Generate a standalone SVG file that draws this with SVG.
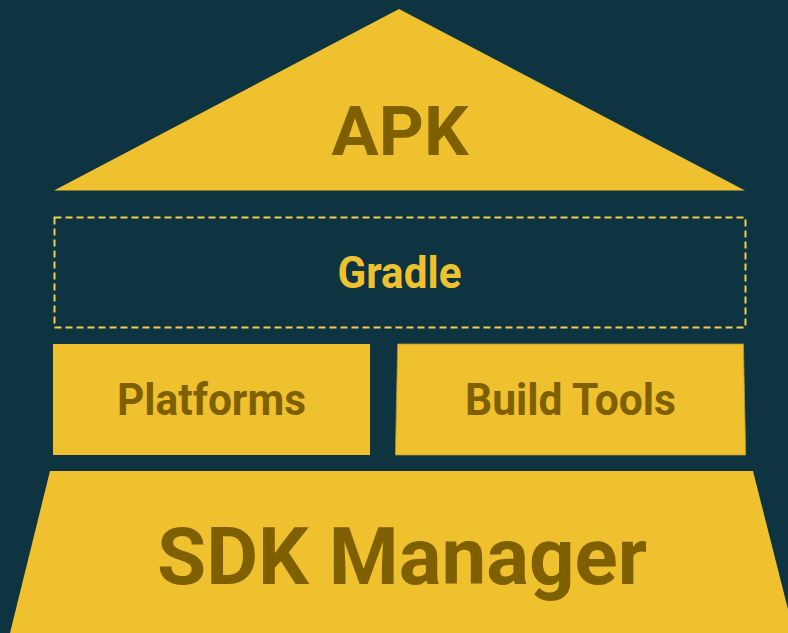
<svg xmlns="http://www.w3.org/2000/svg" width="788" height="633" viewBox="0 0 788 633">
<style>
.bg{fill:#0D3440}
.blk{fill:#F0C12E}
.lbl{font-family:Roboto,"Liberation Sans",sans-serif;font-weight:bold;fill:#7F6000;text-anchor:middle}
.glbl{font-family:Roboto,"Liberation Sans",sans-serif;font-weight:bold;fill:#F0C12E;text-anchor:middle}
.dash{fill:none;stroke:#F5CC4E;stroke-width:2;stroke-dasharray:7 4}
</style>
<rect class="bg" x="0" y="0" width="788" height="633"/>
<g id="apk">
<polygon class="blk" points="399,9 745,190.5 54,190.5"/>
<text class="lbl" x="400" y="155" font-size="69" textLength="137" lengthAdjust="spacingAndGlyphs">APK</text>
</g>
<g id="gradle">
<rect class="dash" x="54.5" y="217.5" width="691" height="110"/>
<text class="glbl" x="399.5" y="288" font-size="44" textLength="124" lengthAdjust="spacingAndGlyphs">Gradle</text>
</g>
<g id="platforms">
<rect class="blk" x="53" y="344" width="317" height="111"/>
<text class="lbl" x="211.5" y="415" font-size="45" textLength="189" lengthAdjust="spacingAndGlyphs">Platforms</text>
</g>
<g id="buildtools">
<polygon class="blk" points="397.7,344 743.4,344 745.7,455 395.4,455" stroke="#B8962A" stroke-width="0.8"/>
<text class="lbl" x="570.5" y="415" font-size="45" textLength="211" lengthAdjust="spacingAndGlyphs">Build Tools</text>
</g>
<g id="sdkmanager">
<polygon class="blk" points="50,471 753,471 794,633 10,633"/>
<text class="lbl" x="402" y="584" font-size="80" textLength="490" lengthAdjust="spacingAndGlyphs">SDK Manager</text>
</g>
</svg>
